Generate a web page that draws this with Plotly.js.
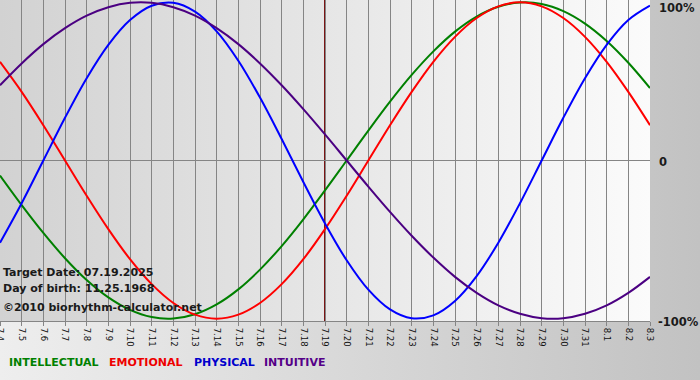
<!DOCTYPE html>
<html>
<head>
<meta charset="utf-8">
<script src="https://cdn.plot.ly/plotly-3.0.1.min.js"></script>
<style>
  html, body { margin: 0; padding: 0; }
  body { width: 700px; height: 380px; overflow: hidden;
         background: linear-gradient(to right, #eeeeee 0%, #c2c2c2 100%); }
  #wrap { position: relative; width: 700px; height: 380px; }
  #plotbg { position: absolute; left: 0; top: 0; width: 650px; height: 321px;
            background: linear-gradient(to right, #d2d2d2 0%, #e6e6e6 50%, #fbfbfb 100%); }
  #chart { position: absolute; left: 0; top: 0; width: 700px; height: 380px; }
</style>
</head>
<body>
<div id="wrap"><div id="plotbg"></div><div id="chart"></div></div>
<script>
const days = ["7.4","7.5","7.6","7.7","7.8","7.9","7.10","7.11","7.12","7.13","7.14","7.15","7.16","7.17","7.18","7.19","7.20","7.21","7.22","7.23","7.24","7.25","7.26","7.27","7.28","7.29","7.30","7.31","8.1","8.2","8.3"];
const targetDay = "7.19";

const intellectual = [-0.095,-0.282,-0.458,-0.618,-0.756,-0.866,-0.945,-0.990,-0.999,-0.972,-0.910,-0.815,-0.690,-0.541,-0.372,-0.189,0,0.189,0.372,0.541,0.690,0.815,0.910,0.972,0.999,0.990,0.945,0.866,0.756,0.618,0.458];
const emotional = [0.624,0.434,0.223,0,-0.223,-0.434,-0.624,-0.782,-0.901,-0.975,-1,-0.975,-0.901,-0.782,-0.624,-0.434,-0.223,0,0.223,0.434,0.624,0.782,0.901,0.975,1,0.975,0.901,0.782,0.624,0.434,0.223];
const physical = [-0.520,-0.270,0,0.270,0.520,0.731,0.888,0.979,0.998,0.942,0.817,0.631,0.398,0.136,-0.136,-0.398,-0.631,-0.817,-0.942,-0.998,-0.979,-0.888,-0.731,-0.520,-0.270,0,0.270,0.520,0.731,0.888,0.979];
const intuitive = [0.476,0.614,0.736,0.837,0.916,0.969,0.997,0.997,0.969,0.916,0.837,0.736,0.614,0.476,0.325,0.165,0,-0.165,-0.325,-0.476,-0.614,-0.736,-0.837,-0.916,-0.969,-0.997,-0.997,-0.969,-0.916,-0.837,-0.736];

const seriesNames = ["INTELLECTUAL","EMOTIONAL","PHYSICAL","INTUITIVE"];
const lineColors = ["#008000","#ff0000","#0000ff","#4b0082"];
const textColors = ["#008000","#ee0000","#0000cc","#550088"];
const infoLines = ["Target Date: 07.19.2025","Day of birth: 11.25.1968"];
const copyright = "©2010 biorhythm-calculator.net";
const yLabels = ["100%","0","-100%"];

const seriesData = [intellectual, emotional, physical, intuitive];
const traces = seriesData.map((vals, i) => ({
  type: "scatter", mode: "lines", x: days, y: vals, name: seriesNames[i],
  line: {color: lineColors[i], width: 2, shape: "spline", smoothing: 1},
  hoverinfo: "skip"
}));

const fontB = "DejaVu Sans, Verdana, sans-serif";
const annotations = [];
infoLines.forEach((t, i) => annotations.push({
  xref: "paper", yref: "paper", x: 0, y: 0, xanchor: "left", yanchor: "middle",
  xshift: 1, yshift: 321 - 272 - i * 16.5, text: t, showarrow: false,
  font: {family: fontB, size: 11, color: "#1a1a1a", weight: "bold"}
}));
annotations.push({
  xref: "paper", yref: "paper", x: 0, y: 0, xanchor: "left", yanchor: "middle",
  xshift: 1, yshift: 321 - 307, text: copyright, showarrow: false,
  font: {family: fontB, size: 11, color: "#1a1a1a", weight: "bold"}
});
annotations.push({xref: "paper", yref: "paper", x: 1, y: 1, xanchor: "left", yanchor: "middle",
  xshift: 7, yshift: -8, text: yLabels[0], showarrow: false,
  font: {family: fontB, size: 11.5, color: "#1a1a1a", weight: "bold"}});
annotations.push({xref: "paper", yref: "y", x: 1, y: 0, xanchor: "left", yanchor: "middle",
  xshift: 7, yshift: -1, text: yLabels[1], showarrow: false,
  font: {family: fontB, size: 11.5, color: "#1a1a1a", weight: "bold"}});
annotations.push({xref: "paper", yref: "paper", x: 1, y: 0, xanchor: "left", yanchor: "middle",
  xshift: 6, yshift: -1, text: yLabels[2], showarrow: false,
  font: {family: fontB, size: 11.5, color: "#1a1a1a", weight: "bold"}});
const legendX = [7, 107, 192, 262];
seriesNames.forEach((n, i) => annotations.push({
  xref: "paper", yref: "paper", x: 0, y: 0, xanchor: "left", yanchor: "middle",
  xshift: legendX[i], yshift: 321 - 362, text: n, showarrow: false,
  font: {family: fontB, size: 11, color: textColors[i], weight: "bold"}
}));

const targetIndex = days.indexOf(targetDay);

const layout = {
  width: 700, height: 380,
  margin: {l: 0, r: 50, t: 0, b: 59, pad: 0},
  paper_bgcolor: "rgba(0,0,0,0)", plot_bgcolor: "rgba(0,0,0,0)",
  showlegend: false,
  xaxis: {
    type: "category", range: [0, days.length - 1], fixedrange: true,
    showgrid: true, gridcolor: "#858585", gridwidth: 1,
    showline: true, linecolor: "#858585", linewidth: 1, mirror: true,
    ticks: "outside", ticklen: 4, tickcolor: "#858585", tickwidth: 1,
    tickangle: 90, tickfont: {family: "DejaVu Sans, Verdana, sans-serif", size: 8.5, color: "#111"},
    zeroline: false
  },
  yaxis: {
    range: [-1.015, 1.015], fixedrange: true,
    showgrid: false, showticklabels: false, ticks: "",
    zeroline: true, zerolinecolor: "#858585", zerolinewidth: 1,
    showline: false
  },
  shapes: [{
    type: "line", xref: "x", yref: "paper", x0: targetIndex, x1: targetIndex, y0: 0, y1: 1,
    line: {color: "#7a1414", width: 2}, layer: "between"
  }],
  annotations: annotations
};

Plotly.newPlot("chart", traces, layout, {displayModeBar: false, staticPlot: true});
</script>
</body>
</html>
